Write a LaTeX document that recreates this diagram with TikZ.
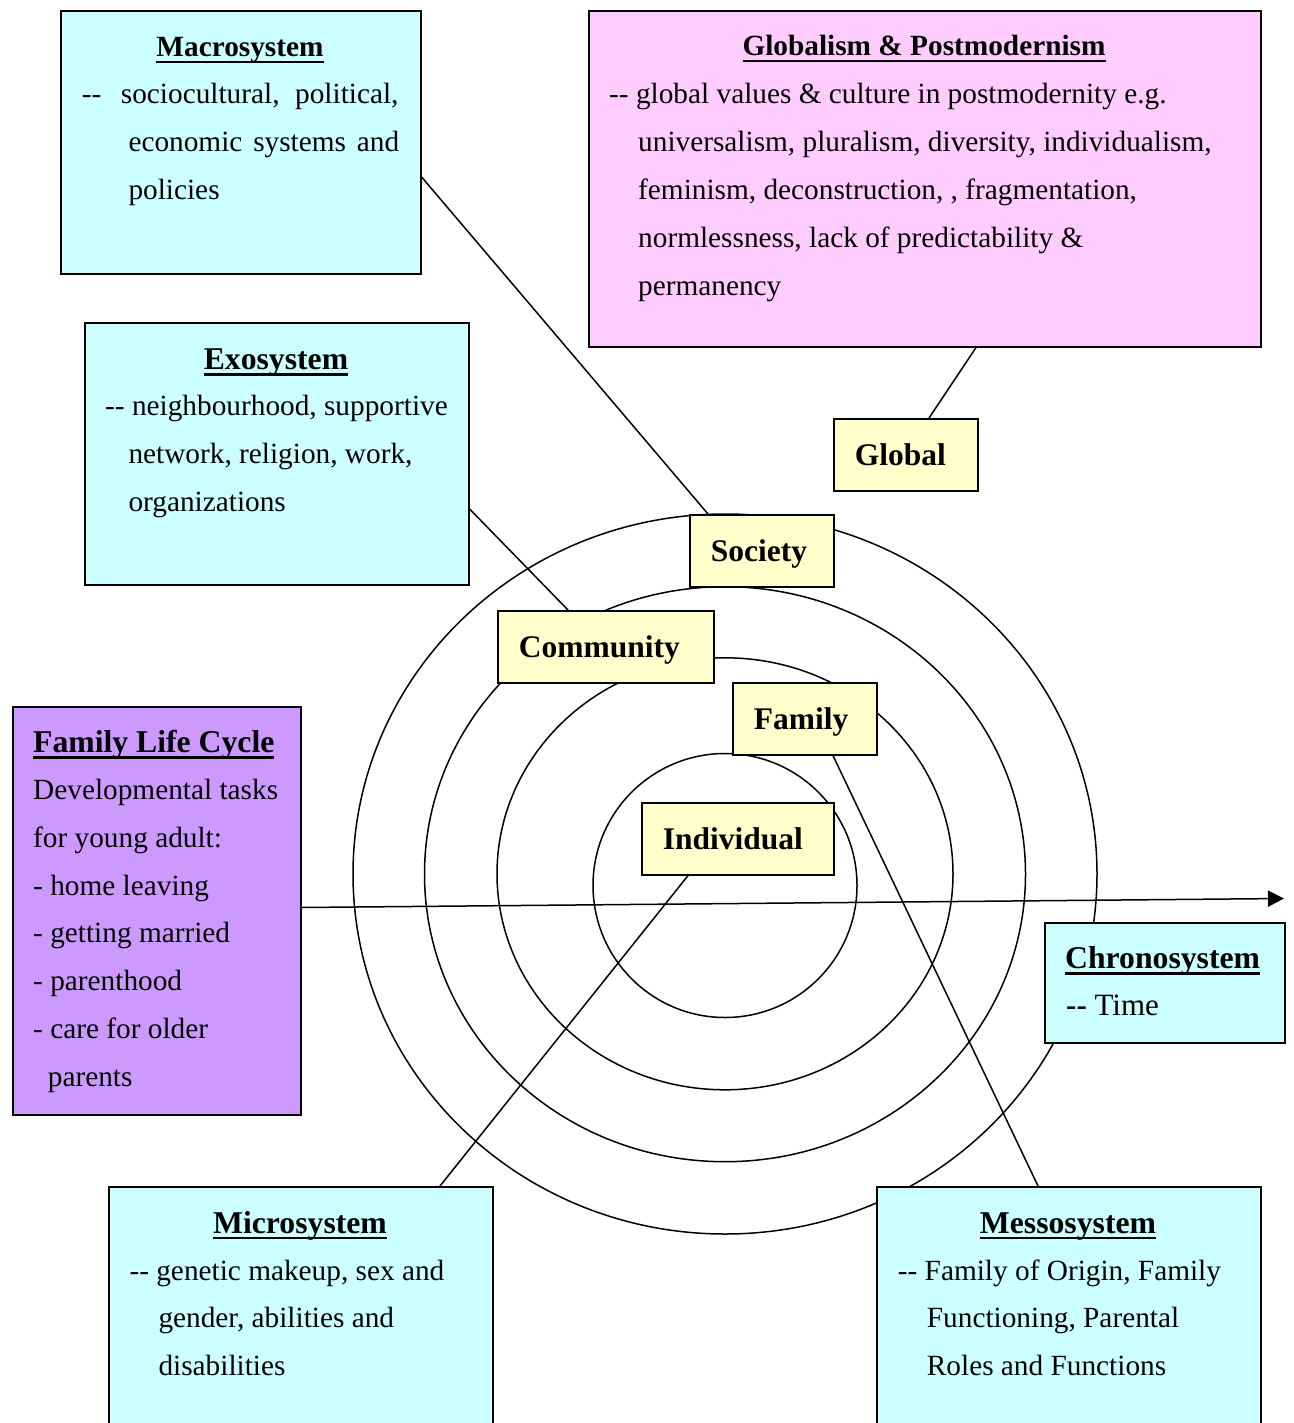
\documentclass[tikz,border=0pt]{standalone}
\usepackage{fontspec}
\setmainfont{Liberation Serif}
\usetikzlibrary{arrows.meta}
\definecolor{cyanbox}{HTML}{CCFFFF}
\definecolor{pinkbox}{HTML}{FFCCFF}
\definecolor{yelbox}{HTML}{FFFFCC}
\definecolor{purbox}{HTML}{CC99FF}
\newcommand{\dhy}{\mbox{-}\mbox{-}}
\newcommand{\ult}[1]{\setbox0\hbox{#1}\rlap{\rule[-6.2pt]{\wd0}{2.4pt}}\box0}
\begin{document}
\begin{tikzpicture}[x=1pt,y=-1pt,
  boxline/.style={draw=black, line width=1.6pt},
  bigbox/.style={boxline, anchor=north west, inner sep=0pt},
  lblbox/.style={boxline, fill=yelbox, anchor=north west, inner xsep=21pt, inner ysep=0pt,
     minimum height=72pt, text height=28pt, text depth=6.6pt,
     font=\fontsize{31.5pt}{36pt}\selectfont\bfseries},
  body/.style={anchor=base west, inner sep=0pt, font=\fontsize{29.3pt}{48pt}\selectfont},
  ttl/.style={anchor=base, inner sep=0pt, font=\fontsize{31.7pt}{48pt}\selectfont\bfseries},
  ttlw/.style={anchor=base west, inner sep=0pt, font=\fontsize{31.7pt}{48pt}\selectfont\bfseries},
  ttls/.style={anchor=base, inner sep=0pt, font=\fontsize{29.3pt}{48pt}\selectfont\bfseries},
  ring/.style={draw=black, line width=1.5pt},
  conn/.style={draw=black, line width=1.5pt},
]
\clip (0,0) rectangle (1293,1423);
\fill[white] (0,0) rectangle (1293,1423);

% rings
\draw[ring] (725,874) ellipse [x radius=372, y radius=360];
\draw[ring] (725,874.2) ellipse [x radius=300.5, y radius=287.5];
\draw[ring] (725,873.8) ellipse [x radius=228, y radius=216];
\draw[ring] (725,885.5) circle [radius=132];

% Macrosystem
\node[bigbox, fill=cyanbox, minimum width=360pt, minimum height=263pt] (macro) at (60,10) {};
\node[ttls] (macroT) at (240,57) {\ult{Macrosystem}};
\node[body] (macroL1a) at (81.7,104) {\dhy};
\node[body] (macroL1b) at (120.7,104) {\makebox[277.6pt][s]{sociocultural, political,}};
\node[body] (macroL2) at (128.3,151.5) {\makebox[270.7pt][s]{economic systems and}};
\node[body] (macroL3) at (128.3,199.5) {policies};

% Globalism
\node[bigbox, fill=pinkbox, minimum width=672pt, minimum height=336pt] (glob) at (588,10) {};
\node[ttls] (globT) at (924,56) {\ult{Globalism \& Postmodernism}};
\node[body] (globL1) at (609,103.5) {\dhy{} global values \& culture in postmodernity e.g.};
\node[body] (globL2) at (638,151.5) {universalism, pluralism, diversity, individualism,};
\node[body] (globL3) at (638,199.5) {feminism, deconstruction, , fragmentation,};
\node[body] (globL4) at (638,247.5) {normlessness, lack of predictability \&};
\node[body] (globL5) at (638,295.5) {permanency};

% Exosystem
\node[bigbox, fill=cyanbox, minimum width=384pt, minimum height=262pt] (exo) at (84,322) {};
\node[ttl] (exoT) at (276,369.5) {\ult{Exosystem}};
\node[body] (exoL1) at (105,415.5) {\dhy{} neighbourhood, supportive};
\node[body] (exoL2) at (128.3,463.5) {network, religion, work,};
\node[body] (exoL3) at (128.3,511.5) {organizations};

% Family Life Cycle
\node[bigbox, fill=purbox, minimum width=288pt, minimum height=408pt] (flc) at (12,706) {};
\node[ttlw] (flcT) at (33,752.5) {\ult{Family Life Cycle}};
\node[body] (flcL1) at (33,799.5) {Developmental tasks};
\node[body] (flcL2) at (33,847) {for young adult:};
\node[body] (flcL3) at (33,895) {- home leaving};
\node[body] (flcL4) at (33,942.5) {- getting married};
\node[body] (flcL5) at (33,990.5) {- parenthood};
\node[body] (flcL6) at (33,1038.5) {- care for older};
\node[body] (flcL7) at (47.7,1086.5) {parents};

% Chronosystem
\node[bigbox, fill=cyanbox, minimum width=240pt, minimum height=120pt] (chrono) at (1044,922) {};
\node[ttlw] (chronoT) at (1065,968.5) {\ult{Chronosystem}};
\node[body, font=\fontsize{31pt}{48pt}\selectfont] (chronoL1) at (1066,1015.5) {{\bfseries\dhy} Time};

% Microsystem
\node[bigbox, fill=cyanbox, minimum width=384pt, minimum height=300pt] (micro) at (108,1186) {};
\node[ttl] (microT) at (300,1233) {\ult{Microsystem}};
\node[body] (microL1) at (129.3,1280) {\dhy{} genetic makeup, sex and};
\node[body] (microL2) at (158.3,1327.5) {gender, abilities and};
\node[body] (microL3) at (158.3,1375) {disabilities};

% Messosystem
\node[bigbox, fill=cyanbox, minimum width=384pt, minimum height=300pt] (messo) at (876,1186) {};
\node[ttl] (messoT) at (1068,1233) {\ult{Messosystem}};
\node[body] (messoL1) at (897.7,1280) {\dhy{} Family of Origin, Family};
\node[body] (messoL2) at (926.7,1327.5) {Functioning, Parental};
\node[body] (messoL3) at (926.7,1375) {Roles and Functions};

% level labels
\node[lblbox] (global) at (833,418) {\makebox[102pt][l]{Global}};
\node[lblbox] (society) at (689,514) {\makebox[102pt][l]{Society}};
\node[lblbox] (community) at (497,610) {\makebox[174pt][l]{Community}};
\node[lblbox] (family) at (732,682) {\makebox[102pt][l]{Family}};
\node[lblbox] (individual) at (641,802) {\makebox[150pt][l]{Individual}};

% connectors
\draw[conn] (macro.east |- 0,177) -- (society.north -| 708,0);
\draw[conn] (exo.east |- 0,509) -- (community.north -| 568,0);
\draw[conn] (glob.south -| 976,0) -- (global.north -| 929,0);
\draw[conn] (family.south -| 833,0) -- (messo.north -| 1038,0);
\draw[conn] (individual.south -| 688,0) -- (micro.north -| 440,0);
\coordinate (timeend) at (1284,898.5);
\draw[conn, -{Triangle[length=16pt,width=16pt]}] (flc.east |- 0,907.5) -- (timeend);
\end{tikzpicture}
\end{document}
